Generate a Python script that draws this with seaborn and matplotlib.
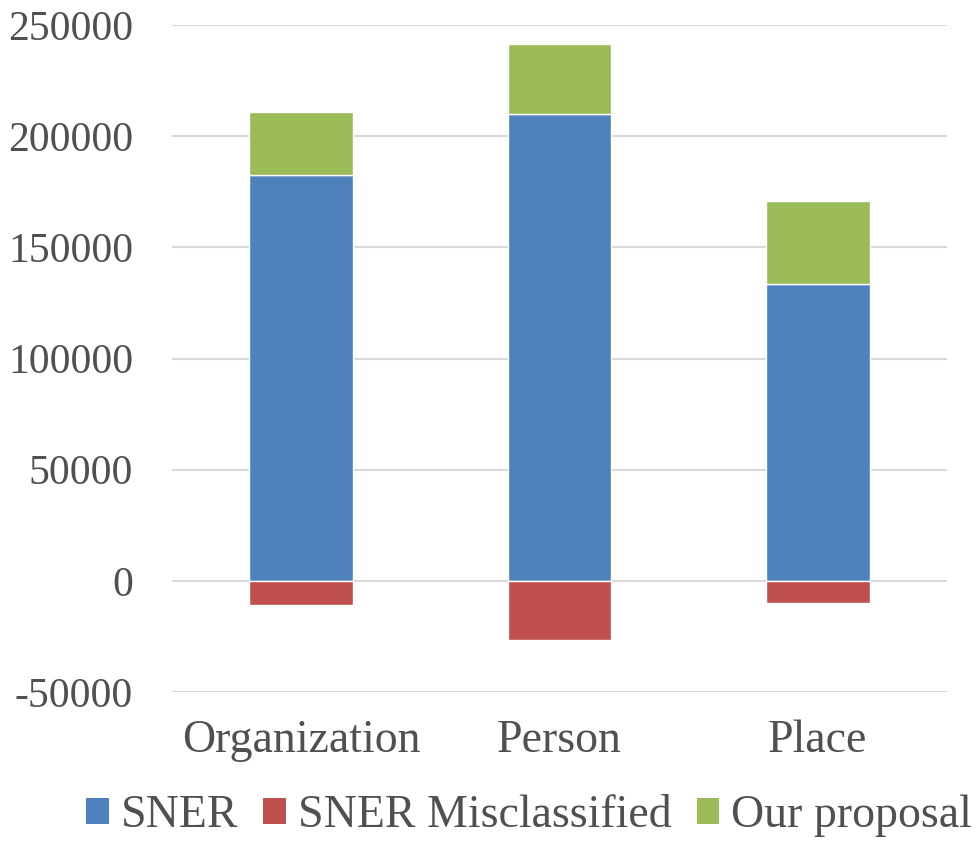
import matplotlib
matplotlib.use("Agg")
import matplotlib.pyplot as plt
import seaborn as sns
import pandas as pd
from matplotlib.patches import Patch

categories = ["Organization", "Person", "Place"]
sner = [182500, 210000, 133500]
sner_misclassified = [-10800, -26400, -9800]
our_proposal = [28500, 31500, 37500]
y_ticks = [-50000, 0, 50000, 100000, 150000, 200000, 250000]

df = pd.DataFrame({
    "category": categories,
    "SNER": sner,
    "SNER Misclassified": sner_misclassified,
    "Our proposal": our_proposal,
})

colors = {"SNER": "#4F81BD", "SNER Misclassified": "#C0504D", "Our proposal": "#9BBB59"}
text_color = "#505050"

sns.set_style("white")
plt.rcParams["font.family"] = ["Liberation Serif", "DejaVu Serif"]

fig = plt.figure(figsize=(9.76, 8.41), dpi=100)
ax = fig.add_axes([172 / 976, 1 - 692 / 841, (947 - 172) / 976, (692 - 25) / 841])

sns.barplot(data=df, x="category", y="SNER", color=colors["SNER"], width=0.4,
            ax=ax, saturation=1, zorder=3)
sns.barplot(data=df, x="category", y="SNER Misclassified", color=colors["SNER Misclassified"],
            width=0.4, ax=ax, saturation=1, zorder=3)
sns.barplot(data=df, x="category", y="Our proposal", bottom=df["SNER"],
            color=colors["Our proposal"], width=0.4, ax=ax, saturation=1, zorder=3)

ax.set_ylim(-50000, 250000)
ax.set_yticks(y_ticks)
ax.set_yticklabels([str(t) for t in y_ticks])
ax.set_xlabel("")
ax.set_ylabel("")
ax.grid(axis="y", color="#d9d9d9", linewidth=1.5, zorder=0)
ax.set_axisbelow(True)
for s in ax.spines.values():
    s.set_visible(False)
ax.tick_params(axis="y", length=0, pad=28, labelsize=30, labelcolor=text_color)
ax.tick_params(axis="x", length=0, pad=20, labelsize=33, labelcolor=text_color)

handles = [Patch(facecolor=colors[k], edgecolor="none") for k in
           ["SNER", "SNER Misclassified", "Our proposal"]]
fig.legend(handles, ["SNER", "SNER Misclassified", "Our proposal"],
           loc="center", bbox_to_anchor=(529 / 976, 1 - 816 / 841), ncol=3,
           frameon=False, fontsize=33, handlelength=0.5, handleheight=0.5,
           handletextpad=0.25, columnspacing=0.55, labelcolor=text_color,
           borderpad=0, borderaxespad=0)

fig.savefig("out.png", dpi=100)
